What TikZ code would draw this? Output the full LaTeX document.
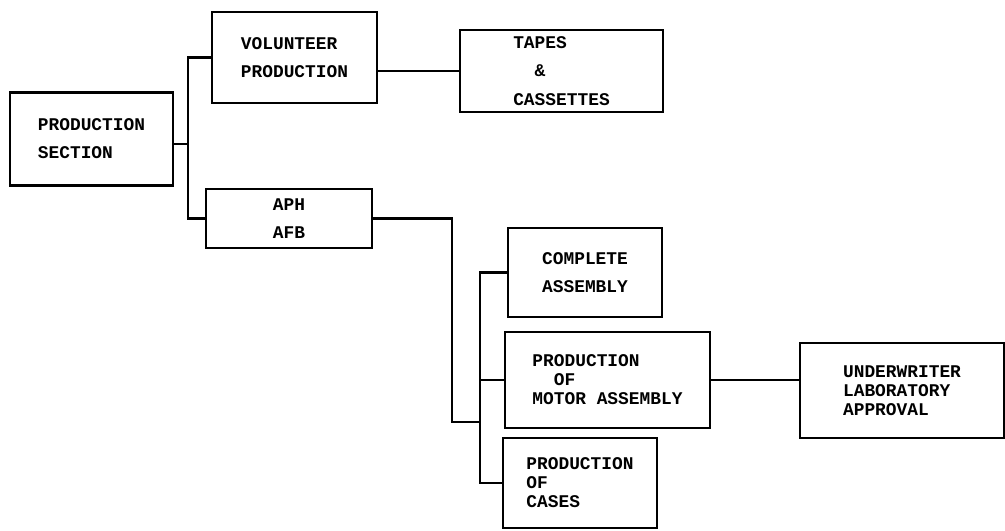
\documentclass[tikz,border=0pt]{standalone}
\usepackage{fontspec}
\setmonofont{Liberation Mono}
\usepackage{tikz}
\usetikzlibrary{positioning}

\begin{document}
\begin{tikzpicture}[x=0.025cm,y=-0.025cm,line width=1.5pt,
 orgbox/.style={draw,align=left,inner sep=2pt,
  font=\ttfamily\bfseries\fontsize{12.7}{20}\selectfont},
 orgtight/.style={orgbox,font=\ttfamily\bfseries\fontsize{12.7}{13.5}\selectfont}]
 \useasboundingbox (0,0) rectangle (1005,531);
 \node[orgbox,minimum width=4.075cm,minimum height=2.325cm] (sect) at (91.5,139)
  {PRODUCTION\\SECTION};
 \node[orgbox,minimum width=4.125cm,minimum height=2.275cm] (vol) at (294.5,57.5)
  {VOLUNTEER\\PRODUCTION};
 \node[orgbox,minimum width=5.075cm,minimum height=2.05cm] (tapes) at (561.5,71)
  {TAPES\\\phantom{TA}\&\\CASSETTES};
 \node[orgbox,minimum width=4.15cm,minimum height=1.475cm] (aph) at (289,218.5)
  {APH\\AFB};
 \node[orgbox,minimum width=3.85cm,minimum height=2.225cm] (compl) at (585,272.5)
  {COMPLETE\\ASSEMBLY};
 \node[orgtight,minimum width=5.125cm,minimum height=2.4cm] (motor) at (607.5,380)
  {PRODUCTION\\\phantom{PR}OF\\MOTOR ASSEMBLY};
 \node[orgtight,minimum width=3.85cm,minimum height=2.25cm] (cases) at (580,483)
  {PRODUCTION\\OF\\CASES};
 \node[orgtight,minimum width=5.1cm,minimum height=2.375cm] (uwl) at (902,390.5)
  {UNDERWRITER\\LABORATORY\\APPROVAL};
 \coordinate (jA) at (188,144);
 \coordinate (kB) at (452,422);
 \coordinate (jB) at (480,422);
 \draw (sect.east |- jA) -- (jA);
 \draw (vol.west) -| (jA) |- (aph.west);
 \draw (vol.east |- tapes.west) -- (tapes.west);
 \draw (aph.east) -| (kB) -- (jB);
 \draw (compl.west) -| (jB) |- (cases.west);
 \draw (motor.west) -- (motor.west -| jB);
 \draw (motor.east) -- (motor.east -| uwl.west);
\end{tikzpicture}
\end{document}
